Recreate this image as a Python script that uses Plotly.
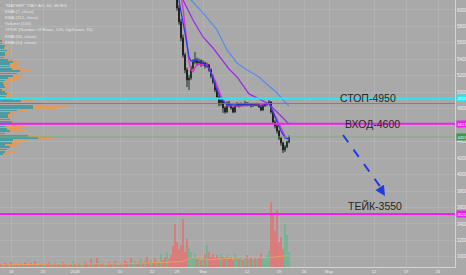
import plotly.graph_objects as go

# ---------------- data ----------------
x_tick_pos = [5, 21, 37, 59.5, 75.5, 88, 101, 123, 139, 151.5, 164, 186.5, 202.5, 218.5]
x_tick_text = ["18", "25", "2018", "15", "22", "29", "Фев", "12", "19", "26", "Мар", "12", "19", "26"]
y_tick_vals = [3000, 3200, 3400, 3600, 3800, 4000, 4200, 4400, 4600, 4800,
               5000, 5200, 5400, 5600, 5800, 6000]

candle_first_bar = 86
c_open = [6400, 6330, 6200, 6024, 5854, 5660, 5453, 5271, 5150, 5174,
          5295, 5368, 5392, 5356, 5380, 5344, 5356, 5320, 5332, 5271,
          5198, 5125, 5028, 4943, 4858, 4906, 4809, 4761, 4870, 4846,
          4809, 4761, 4834, 4858, 4834, 4858, 4846, 4870, 4846, 4858,
          4834, 4858, 4846, 4858, 4822, 4785, 4834, 4846, 4858, 4882,
          4761, 4639, 4590, 4530, 4445, 4384, 4299, 4335, 4396]
c_high = [6440, 6360, 6230, 6060, 5890, 5700, 5480, 5300, 5210, 5320,
          5400, 5490, 5420, 5410, 5400, 5390, 5370, 5360, 5345, 5290,
          5215, 5140, 5050, 4960, 4930, 4920, 4830, 4890, 4895, 4860,
          4825, 4850, 4880, 4870, 4875, 4870, 4895, 4880, 4875, 4868,
          4870, 4870, 4872, 4866, 4830, 4845, 4860, 4870, 4905, 4890,
          4775, 4660, 4610, 4545, 4460, 4400, 4360, 4410, 4475]
c_low = [6300, 6170, 5990, 5820, 5620, 5420, 5230, 5064, 5028, 5150,
         5270, 5340, 5320, 5330, 5310, 5320, 5290, 5300, 5250, 5170,
         5100, 5000, 4920, 4830, 4835, 4750, 4740, 4750, 4820, 4790,
         4745, 4750, 4820, 4815, 4825, 4830, 4835, 4830, 4835, 4815,
         4825, 4835, 4838, 4810, 4770, 4775, 4825, 4838, 4850, 4740,
         4610, 4560, 4500, 4420, 4350, 4262, 4275, 4320, 4380]
c_close = [6330, 6200, 6024, 5854, 5660, 5453, 5271, 5150, 5174, 5295,
           5368, 5392, 5356, 5380, 5344, 5356, 5320, 5332, 5271, 5198,
           5125, 5028, 4943, 4858, 4906, 4809, 4761, 4870, 4846, 4809,
           4761, 4834, 4858, 4834, 4858, 4846, 4870, 4846, 4858, 4834,
           4858, 4846, 4858, 4822, 4785, 4834, 4846, 4858, 4882, 4761,
           4639, 4590, 4530, 4445, 4384, 4299, 4335, 4396, 4457]

volume = [3, 2, 4, 3, 2, 5, 3, 2, 3, 4,
          2, 3, 5, 3, 2, 4, 3, 6, 3, 2,
          3, 4, 2, 3, 5, 3, 2, 4, 3, 3,
          2, 5, 3, 4, 2, 3, 6, 3, 2, 4,
          3, 2, 5, 4, 3, 8, 4, 3, 9, 5,
          3, 4, 2, 3, 5, 3, 4, 6, 3, 2,
          4, 3, 7, 5, 3, 9, 4, 6, 3, 5,
          8, 4, 6, 10, 5, 7, 4, 9, 6, 5,
          12, 7, 10, 14, 8, 11,
          20, 41, 24, 17, 21, 46, 14, 27, 18, 14,
          9, 12, 8, 10, 7, 9, 12, 21, 14, 10,
          12, 9, 11, 8, 12, 10, 9, 11, 8, 10,
          7, 12, 9, 8, 10, 7, 9, 11, 8, 10,
          7, 9, 8, 10, 13, 9, 8, 11, 15, 62,
          51, 34, 54, 24, 29, 17, 41, 31, 14]
vol_dir_early = ("rgrrgrgrrg rgrgrrgrgr rggrrgrrgr grrgrrgrgr ggrrgrgrrg "
                 "rrggrrgrgr rgrrgrggrr grgrrgrrgr grrgrr").replace(" ", "")

vol_ma_bar = [0, 30, 60, 80, 90, 96, 104, 121, 134, 144]
vol_ma_val = [2, 3, 3, 4, 5, 9, 7, 9, 9, 11]

ema7_bar = [88, 89, 92, 93, 94, 95, 97, 101, 104, 106, 108, 110, 113, 118, 125, 130, 134, 136, 138, 140, 142, 144]
ema7_val = [6243, 6121, 5720, 5575, 5429, 5380, 5392, 5356, 5295, 5174, 5028, 4919, 4846, 4846, 4846, 4834, 4870, 4761, 4639, 4530, 4445, 4433]
ema14_bar = [90, 91, 93, 94, 95, 96, 98, 103, 107, 110, 113, 120, 129, 134, 137, 140, 142, 144]
ema14_val = [6182, 6024, 5599, 5368, 5271, 5247, 5344, 5332, 5150, 4955, 4834, 4834, 4846, 4858, 4724, 4566, 4469, 4420]
ema56_bar = [90, 91, 96, 101, 106, 109, 114, 118, 121, 124, 128, 134, 139, 144]
ema56_val = [6182, 6121, 5878, 5672, 5538, 5441, 5283, 5186, 5089, 4980, 4931, 4858, 4736, 4615]
ema112_bar = [93, 95, 101, 108, 113, 118, 123, 129, 134, 138, 141, 144]
ema112_val = [6194, 6121, 5964, 5757, 5514, 5356, 5271, 5186, 5076, 4992, 4906, 4834]

profile_price = [5620, 5592, 5564, 5536, 5508, 5480, 5452, 5424, 5396, 5368,
                 5340, 5312, 5284, 5256, 5228, 5200, 5172, 5144, 5116, 5088,
                 5060, 5032, 5004, 4976, 4948, 4920, 4892, 4864, 4836, 4808,
                 4780, 4752, 4724, 4696, 4668, 4640, 4612, 4584, 4556, 4528,
                 4500, 4472, 4444, 4416, 4388, 4360, 4332, 4304, 4276, 4248]
profile_up = [2, 2, 5, 4, 7, 5, 5, 4, 8, 13, 10, 10, 12, 20, 17, 13, 8, 5, 3, 4,
              5, 2, 5, 7, 6, 13, 21, 45, 33, 33, 17, 10, 8, 8, 10, 12, 10, 5, 7, 10,
              5, 28, 38, 13, 12, 5, 10, 7, 5, 3]
profile_down = [1, 2, 2, 2, 3, 5, 3, 8, 5, 7, 7, 7, 10, 12, 8, 9, 12, 10, 5, 4,
                5, 3, 4, 4, 6, 10, 12, 41, 34, 24, 11, 5, 4, 4, 3, 2, 8, 20, 13, 15,
                13, 17, 15, 15, 8, 10, 7, 21, 10, 5]

stop_level = 4925
entry_level = 4617
take_level = 3520
stop_text = "СТОП-4950"
entry_text = "ВХОД-4600"
take_text = "ТЕЙК-3550"
arrow_from = (171, 4481)
arrow_to = (192, 3740)

legend_lines = ['"МАГНИТ" ПАО АО, 60, MOEX', "EMA (7, close)", "EMA (112, close)",
                "Volume (100)", "VPVR (Number Of Rows, 100, Up/Down, 70)",
                "EMA (56, close)", "EMA (14, close)"]

# ---------------- figure ----------------
W, H = 466, 275
ML, MR, MT, MB = 0, 11, 0, 8
plot_h = H - MT - MB
BG = "#a9a9a9"
FONT = "Liberation Sans"

fig = go.Figure()

# volume profile (left)
fig.add_trace(go.Bar(y=profile_price, x=profile_up, orientation="h", width=21,
                     marker=dict(color="rgba(52,150,160,0.8)", line_width=0),
                     xaxis="x2", yaxis="y", hoverinfo="skip"))
fig.add_trace(go.Bar(y=profile_price, x=profile_down, orientation="h", width=21,
                     marker=dict(color="rgba(238,150,75,0.8)", line_width=0),
                     xaxis="x2", yaxis="y", hoverinfo="skip"))

# volume bars
n_vol = len(volume)
dirs = list(vol_dir_early)
for k in range(len(c_open)):
    dirs.append("g" if c_close[k] >= c_open[k] else "r")
vcol = ["rgba(232,110,110,0.75)" if d == "r" else "rgba(100,185,140,0.75)" for d in dirs]
fig.add_trace(go.Bar(x=list(range(n_vol)), y=volume, marker=dict(color=vcol, line_width=0),
                     width=0.7, xaxis="x", yaxis="y2", hoverinfo="skip"))
fig.add_trace(go.Scatter(x=vol_ma_bar, y=vol_ma_val, mode="lines",
                         line=dict(color="rgba(240,160,90,0.9)", width=1),
                         xaxis="x", yaxis="y2", hoverinfo="skip"))

# EMAs
for bx, vy, col in [(ema112_bar, ema112_val, "#5b8de8"),
                    (ema56_bar, ema56_val, "#9a2ee6"),
                    (ema14_bar, ema14_val, "#e030d0"),
                    (ema7_bar, ema7_val, "#2a3cf0")]:
    fig.add_trace(go.Scatter(x=bx, y=vy, mode="lines", line=dict(color=col, width=1.3),
                             xaxis="x", yaxis="y", hoverinfo="skip"))

# candles
bars = list(range(candle_first_bar, candle_first_bar + len(c_open)))
fig.add_trace(go.Candlestick(x=bars, open=c_open, high=c_high, low=c_low, close=c_close,
                             increasing=dict(line=dict(color="#1d3a24", width=1), fillcolor="#2f6d40"),
                             decreasing=dict(line=dict(color="#222222", width=1), fillcolor="#3a2424"),
                             whiskerwidth=0, xaxis="x", yaxis="y", hoverinfo="skip"))

# horizontal levels
totals = [u + d for u, d in zip(profile_up, profile_down)]
poc = profile_price[totals.index(max(totals))]
last_close = c_close[-1]
shapes = []
def hline(y, color, width):
    shapes.append(dict(type="line", xref="paper", x0=0, x1=1, yref="y", y0=y, y1=y,
                       line=dict(color=color, width=width)))
hline(last_close, "rgba(120,175,120,0.9)", 1)
hline(poc, "rgba(225,80,80,0.9)", 1)
hline(stop_level, "#2ee6f2", 2)
hline(entry_level, "#f01ef0", 2)
hline(take_level, "#f01ef0", 2)
shapes.append(dict(type="line", xref="x", yref="y", x0=arrow_from[0], y0=arrow_from[1],
                   x1=arrow_to[0] - 0.8, y1=arrow_to[1] + 60,
                   line=dict(color="#1f3be6", width=2, dash="dash")))

annotations = []
annotations.append(dict(x=arrow_to[0], y=arrow_to[1], xref="x", yref="y",
                        ax=-5, ay=-8, showarrow=True, arrowhead=2, arrowsize=1,
                        arrowwidth=2, arrowcolor="#1f3be6", text=""))
for txt, yv, xc, anchor in [(stop_text, stop_level, 183.5, "middle"),
                            (entry_text, entry_level, 185.5, "middle"),
                            (take_text, take_level, 187, "bottom")]:
    annotations.append(dict(x=xc, y=yv, xref="x", yref="y", text=txt, showarrow=False,
                            xanchor="center", yanchor=anchor,
                            font=dict(family=FONT, size=10.5, color="#262626")))

# price labels on right axis
for val, col, fcol in [(stop_level, "#2ee6f2", "#ffffff"), (entry_level, "#f01ef0", "#ffffff"),
                       (last_close, "#3a9a4a", "#ffffff"), (take_level, "#f01ef0", "#ffffff")]:
    annotations.append(dict(x=1, y=val, xref="paper", yref="y", text=str(val), showarrow=False,
                            xanchor="left", yanchor="middle", xshift=1, bgcolor=col,
                            borderpad=0.5, font=dict(family=FONT, size=4, color=fcol)))

# legend text
for i, t in enumerate(legend_lines):
    ypx = 5 + i * 6.2
    annotations.append(dict(x=3 / (W - ML - MR), y=1 - ypx / plot_h, xref="paper", yref="paper",
                            text=t, showarrow=False, xanchor="left", yanchor="middle",
                            font=dict(family=FONT, size=4.4, color="#e6e6e6")))

grid = "rgba(255,255,255,0.10)"
fig.update_layout(
    width=W, height=H, margin=dict(l=ML, r=MR, t=MT, b=MB),
    paper_bgcolor=BG, plot_bgcolor=BG, showlegend=False, barmode="stack",
    bargap=0,
    xaxis=dict(range=[-0.5, 227], tickvals=x_tick_pos, ticktext=x_tick_text,
               tickfont=dict(family=FONT, size=4, color="#f2f2f2"), ticks="",
               showgrid=True, gridcolor=grid, gridwidth=1, zeroline=False,
               showline=True, linecolor="#d4d4d4", linewidth=1, rangeslider=dict(visible=False),
               fixedrange=True),
    xaxis2=dict(range=[0, W - ML - MR], overlaying="x", visible=False),
    yaxis=dict(range=[2877, 6121], side="right", tickvals=y_tick_vals,
               tickfont=dict(family=FONT, size=4.5, color="#f2f2f2"), ticks="",
               showgrid=True, gridcolor=grid, zeroline=False,
               showline=True, linecolor="#d4d4d4", linewidth=1),
    yaxis2=dict(range=[0, 255], overlaying="y", visible=False),
    shapes=shapes, annotations=annotations,
)

fig.write_html("out.html")
